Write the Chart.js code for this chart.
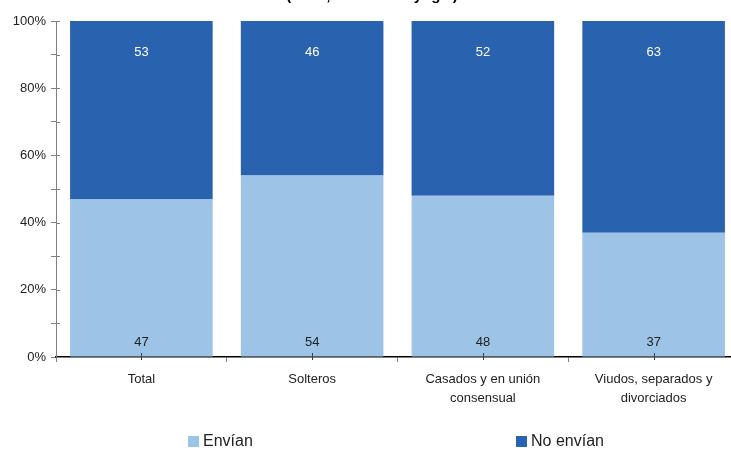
<!DOCTYPE html>
<html>
<head>
<meta charset="utf-8">
<script src="https://cdn.jsdelivr.net/npm/chart.js@4.4.1/dist/chart.umd.min.js"></script>
<style>
  html, body { margin: 0; padding: 0; background: #fff; overflow: hidden; }
  #wrap { width: 760px; height: 450px; }
</style>
</head>
<body>
<div id="wrap"><canvas id="c" width="760" height="450"></canvas></div>
<script>
const categories = ['Total', 'Solteros', ['Casados y en unión', 'consensual'], ['Viudos, separados y', 'divorciados']];
const envian = [47, 54, 48, 37];
const noEnvian = [53, 46, 52, 63];
const seriesNames = ['Envían', 'No envían'];
const titleText = '(en %, estado conyugal)';

const FONT = '"Liberation Sans", Arial, Helvetica, sans-serif';
const LIGHT = '#9DC3E6';
const DARK = '#2962AE';

const extras = {
  id: 'extras',
  afterDraw(chart) {
    const ctx = chart.ctx;
    const xs = chart.scales.x, ys = chart.scales.y;
    ctx.save();
    // clipped title (only descenders visible)
    ctx.font = 'bold 15px ' + FONT;
    ctx.fillStyle = '#000';
    ctx.textAlign = 'center';
    ctx.textBaseline = 'alphabetic';
    ctx.fillText(titleText, 372, -0.5);

    // crossing part of y tick marks
    ctx.strokeStyle = '#808080';
    ctx.lineWidth = 1;
    ys.ticks.forEach((t, i) => {
      const y = Math.round(ys.getPixelForTick(i)) + 0.5;
      ctx.beginPath();
      ctx.moveTo(chart.chartArea.left, y);
      ctx.lineTo(chart.chartArea.left + 4, y);
      ctx.stroke();
    });
    // x center tick marks
    ctx.strokeStyle = '#404040';
    xs.ticks.forEach((t, i) => {
      const x = Math.round(xs.getPixelForValue(i)) + 0.5;
      ctx.beginPath();
      ctx.moveTo(x, chart.chartArea.bottom - 4);
      ctx.lineTo(x, chart.chartArea.bottom + 3);
      ctx.stroke();
    });

    // data labels
    ctx.font = '13px ' + FONT;
    ctx.textAlign = 'center';
    ctx.textBaseline = 'middle';
    chart.data.datasets.forEach((ds, di) => {
      const meta = chart.getDatasetMeta(di);
      meta.data.forEach((el, i) => {
        const v = ds.data[i];
        if (di === 0) {
          ctx.fillStyle = '#222';
          ctx.fillText(String(v), el.x, el.base - 14);
        } else {
          ctx.fillStyle = '#fff';
          ctx.fillText(String(v), el.x, el.y + 31);
        }
      });
    });

    // legend
    const legendX = [188, 516];
    ctx.font = '16px ' + FONT;
    ctx.textAlign = 'left';
    ctx.textBaseline = 'middle';
    chart.data.datasets.forEach((ds, di) => {
      const x = legendX[di];
      ctx.fillStyle = ds.backgroundColor;
      ctx.fillRect(x, 436, 11, 11);
      ctx.fillStyle = '#222';
      ctx.fillText(ds.label, x + 15, 442);
    });
    ctx.restore();
  }
};

new Chart(document.getElementById('c'), {
  type: 'bar',
  data: {
    labels: categories,
    datasets: [
      { label: seriesNames[0], data: envian, backgroundColor: LIGHT, borderWidth: 0 },
      { label: seriesNames[1], data: noEnvian, backgroundColor: DARK, borderWidth: 0 }
    ]
  },
  options: {
    responsive: false,
    animation: false,
    devicePixelRatio: 1,
    layout: { padding: { left: 0, right: 21, top: 21, bottom: 0 } },
    plugins: { legend: { display: false }, tooltip: { enabled: false }, title: { display: false } },
    datasets: { bar: { categoryPercentage: 1, barPercentage: 0.835 } },
    scales: {
      x: {
        stacked: true,
        offset: true,
        afterFit(s) { s.height = 93; },
        border: { display: true, color: '#000', width: 1.5 },
        grid: { offset: true, drawOnChartArea: false, drawTicks: true, tickLength: 5, color: '#808080' },
        ticks: { color: '#222', font: { family: FONT, size: 13, lineHeight: 1.45 }, padding: 8, maxRotation: 0, autoSkip: false }
      },
      y: {
        stacked: true,
        min: 0, max: 100,
        afterFit(s) { s.width = 56; },
        border: { display: true, color: '#808080', width: 1 },
        grid: { drawOnChartArea: false, drawTicks: true, tickLength: 5, color: '#808080' },
        ticks: {
          stepSize: 10,
          color: '#222',
          padding: 5,
          font: { family: FONT, size: 13 },
          callback: v => (v % 20 === 0 ? v + '%' : '')
        }
      }
    }
  },
  plugins: [extras]
});
</script>
</body>
</html>
